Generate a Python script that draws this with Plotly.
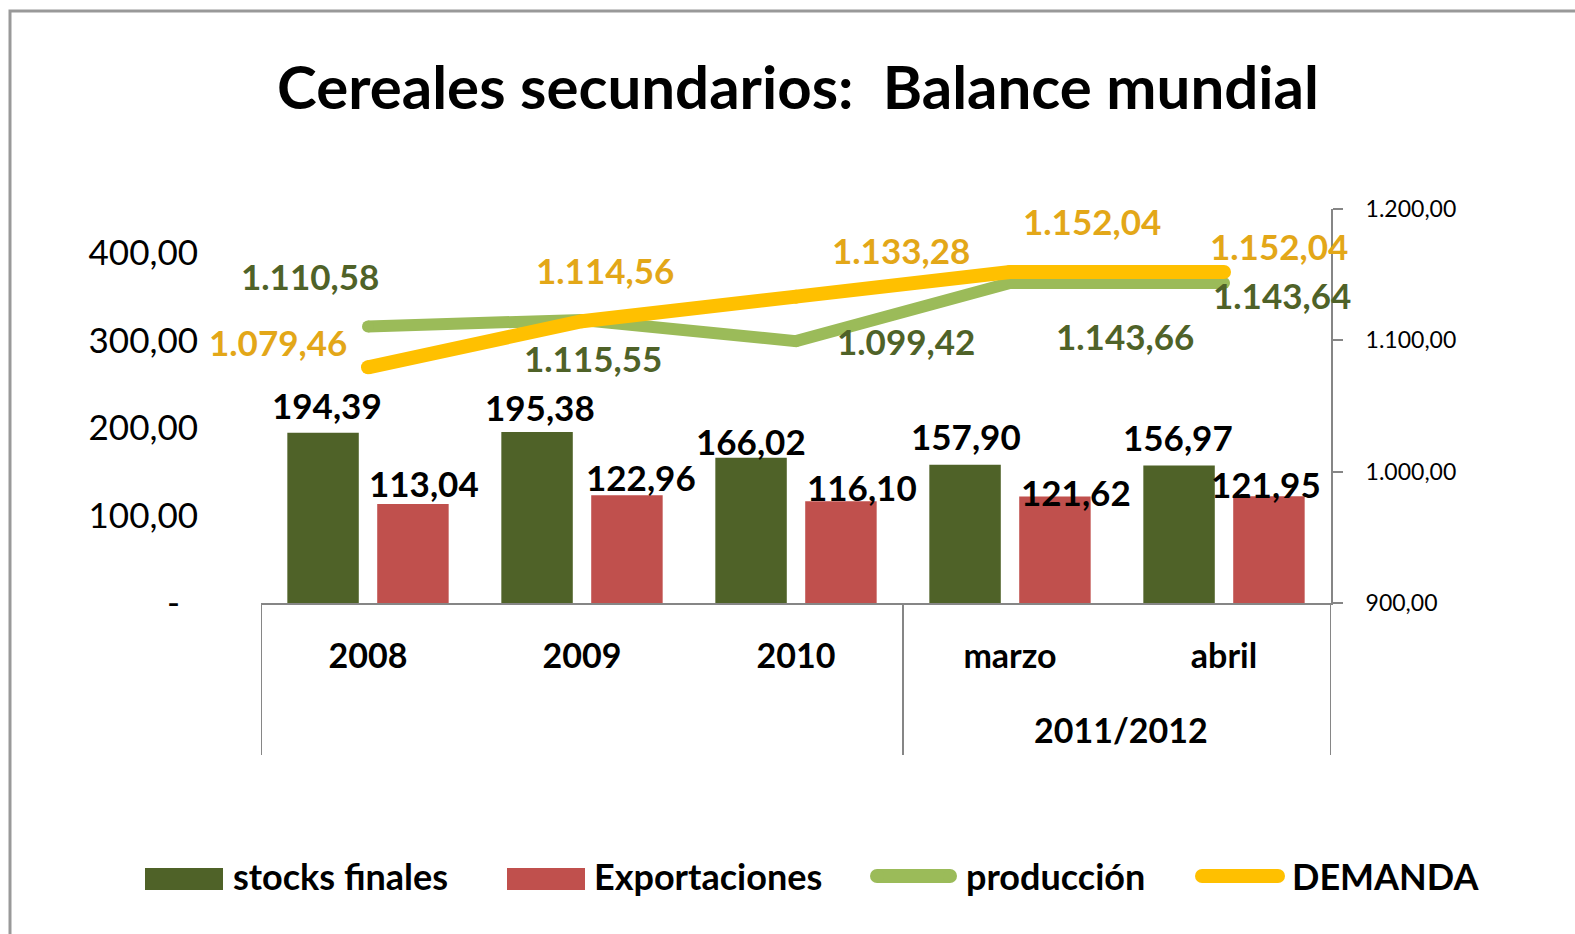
import plotly.graph_objects as go

# ---------------- data ----------------
categories = ["2008", "2009", "2010", "marzo", "abril"]
group_label = "2011/2012"
stocks_finales = [194.39, 195.38, 166.02, 157.90, 156.97]
exportaciones = [113.04, 122.96, 116.10, 121.62, 121.95]
produccion = [1110.58, 1115.55, 1099.42, 1143.66, 1143.64]
demanda = [1079.46, 1114.56, 1133.28, 1152.04, 1152.04]
left_ticks = [0, 100, 200, 300, 400]
right_ticks = [900, 1000, 1100, 1200]

# ---------------- style ----------------
W, H = 1575, 934
ML, MR, MT, MB = 261, 244, 209, 331
PW, PH = W - ML - MR, H - MT - MB
BARGAP, BARGROUPGAP = 0.16, 0.205
FONT = "Lato"
C_STOCK, C_EXP = "#4F6228", "#C0504D"
C_PROD, C_DEM = "#9BBB59", "#FFC000"
C_PROD_TXT, C_DEM_TXT = "#4F6228", "#E3A718"
AX = "#868686"

# label offsets (px): (dx, dy_up)
stock_off = [(4, 28), (3, 25), (0, 17), (1, 29), (-1, 29)]
exp_off = [(11, 21), (14, 18), (21, 14), (21, 5), (-3, 12)]
prod_off = [(-58, 50), (11, -38), (110, 0), (115, -53), (58, -12)]
dem_off = [(-90, 25), (23, 51), (105, 47), (82, 51), (55, 26)]


def es(v, dec=2):
    s = f"{v:,.{dec}f}"
    return s.replace(",", "X").replace(".", ",").replace("X", ".")


def px2x(px):
    return (px - ML) / PW


def px2y(py):
    return (H - MB - py) / PH


fig = go.Figure()
fig.add_trace(go.Bar(x=categories, y=stocks_finales, name="stocks finales",
                     marker_color=C_STOCK, marker_line_width=0, showlegend=False))
fig.add_trace(go.Bar(x=categories, y=exportaciones, name="Exportaciones",
                     marker_color=C_EXP, marker_line_width=0, showlegend=False))
fig.add_trace(go.Scatter(x=categories, y=produccion, name="producción", yaxis="y2",
                         mode="lines+markers", line=dict(color=C_PROD, width=12),
                         marker=dict(color=C_PROD, size=12), showlegend=False))
fig.add_trace(go.Scatter(x=categories, y=demanda, name="DEMANDA", yaxis="y2",
                         mode="lines+markers", line=dict(color=C_DEM, width=14),
                         marker=dict(color=C_DEM, size=14), showlegend=False))

slot = PW / len(categories) * (1 - BARGAP) / 2
bold = dict(family=FONT, size=35, weight="bold")
ann = []
for i, c in enumerate(categories):
    ann.append(dict(x=i, y=stocks_finales[i], xref="x", yref="y", text=es(stocks_finales[i]),
                    xshift=-slot / 2 + stock_off[i][0], yshift=stock_off[i][1], showarrow=False,
                    font=dict(bold, color="black"), xanchor="center", yanchor="middle"))
    ann.append(dict(x=i, y=exportaciones[i], xref="x", yref="y", text=es(exportaciones[i]),
                    xshift=slot / 2 + exp_off[i][0], yshift=exp_off[i][1], showarrow=False,
                    font=dict(bold, color="black"), xanchor="center", yanchor="middle"))
    ann.append(dict(x=i, y=produccion[i], xref="x", yref="y2", text=es(produccion[i]),
                    xshift=prod_off[i][0], yshift=prod_off[i][1], showarrow=False,
                    font=dict(bold, color=C_PROD_TXT), xanchor="center", yanchor="middle"))
    ann.append(dict(x=i, y=demanda[i], xref="x", yref="y2", text=es(demanda[i]),
                    xshift=dem_off[i][0], yshift=dem_off[i][1], showarrow=False,
                    font=dict(bold, color=C_DEM_TXT), xanchor="center", yanchor="middle"))

# group label
ann.append(dict(x=3.5, y=px2y(729), xref="x", yref="paper", text=group_label, showarrow=False,
                xshift=4, font=dict(family=FONT, size=34, color="black", weight="bold"),
                xanchor="center", yanchor="middle"))

shapes = []
# category dividers
for xv in [-0.5, 2.5, 4.5]:
    shapes.append(dict(type="line", xref="x", yref="paper", x0=xv, x1=xv,
                       y0=0, y1=px2y(755), line=dict(color=AX, width=2)))
# x-axis extension past right axis
shapes.append(dict(type="line", xref="paper", yref="paper", x0=1, x1=px2x(1342),
                   y0=0, y1=0, line=dict(color=AX, width=2)))
# outer border
shapes.append(dict(type="rect", xref="paper", yref="paper", x0=px2x(10), x1=px2x(1620),
                   y0=px2y(980), y1=px2y(11), line=dict(color="#999999", width=3),
                   fillcolor="rgba(0,0,0,0)", layer="below"))

# custom legend
legend_items = [
    ("stocks finales", "rect", C_STOCK, 145, 223, 231),
    ("Exportaciones", "rect", C_EXP, 507, 585, 592),
    ("producción", "line", C_PROD, 877, 950, 964),
    ("DEMANDA", "line", C_DEM, 1202, 1278, 1290),
]
LY = 879
for name, kind, col, x0, x1, tx in legend_items:
    if kind == "rect":
        shapes.append(dict(type="rect", xref="paper", yref="paper", x0=px2x(x0), x1=px2x(x1),
                           y0=px2y(LY + 11), y1=px2y(LY - 11), fillcolor=col,
                           line=dict(width=0)))
    else:
        shapes.append(dict(type="line", xref="paper", yref="paper", x0=px2x(x0), x1=px2x(x1),
                           y0=px2y(LY - 3), y1=px2y(LY - 3), line=dict(color=col, width=14)))
        for xe in (x0, x1):
            shapes.append(dict(type="circle", xref="paper", yref="paper",
                               x0=px2x(xe - 7), x1=px2x(xe + 7),
                               y0=px2y(LY - 3 + 7), y1=px2y(LY - 3 - 7),
                               fillcolor=col, line=dict(width=0)))
    ann.append(dict(x=px2x(tx), y=px2y(LY - 3), xref="paper", yref="paper", text=name,
                    showarrow=False, xanchor="left", yanchor="middle",
                    font=dict(family=FONT, size=36, color="black", weight="bold")))

fig.update_layout(
    width=W, height=H,
    margin=dict(l=ML, r=MR, t=MT, b=MB),
    paper_bgcolor="white", plot_bgcolor="white",
    barmode="group", bargap=BARGAP, bargroupgap=BARGROUPGAP,
    showlegend=False,
    title=dict(text="Cereales secundarios:  Balance mundial", x=798 / W, xref="container",
               xanchor="center", y=1 - 88 / H, yref="container", yanchor="middle",
               font=dict(family=FONT, size=60, color="black", weight="bold")),
    xaxis=dict(type="category", showline=True, linecolor=AX, linewidth=2, ticks="",
               showgrid=False, zeroline=False,
               tickfont=dict(family=FONT, size=34, color="black", weight="bold"),
               ticklabelstandoff=22, range=[-0.5, 4.5]),
    yaxis=dict(range=[0, 450], tickvals=left_ticks,
               ticktext=["-\u00a0\u00a0" if v == 0 else es(v) for v in left_ticks],
               showline=False, showgrid=False, zeroline=False, ticks="",
               tickfont=dict(family=FONT, size=35, color="black"),
               ticklabelstandoff=62),
    yaxis2=dict(range=[900, 1200], overlaying="y", side="right", tickvals=right_ticks,
                ticktext=[es(v) for v in right_ticks], showline=True, linecolor=AX,
                linewidth=2, ticks="outside", ticklen=10, tickcolor=AX, tickwidth=2,
                showgrid=False, zeroline=False,
                tickfont=dict(family=FONT, size=23, color="black"),
                ticklabelstandoff=18),
    annotations=ann,
    shapes=shapes,
)

fig.write_html("out.html", config={"displayModeBar": False},
               post_script="document.body.style.margin='0';document.body.style.padding='0';")
